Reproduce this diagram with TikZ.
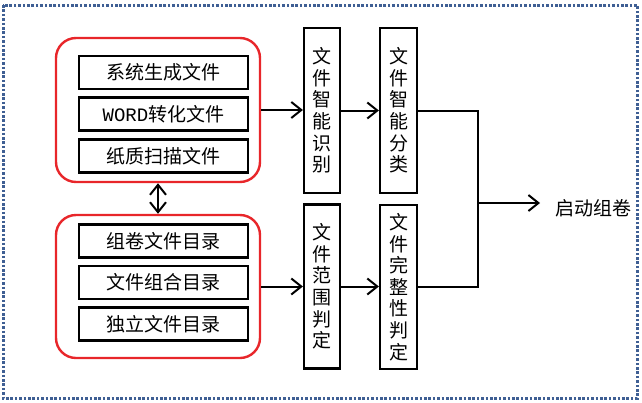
\documentclass[tikz,border=0pt]{standalone}
\usepackage{fontspec}
\setmainfont{Noto Sans CJK SC}
\newfontfamily\latinmono{Liberation Mono}
\usetikzlibrary{arrows.meta,positioning}
\definecolor{frameblue}{HTML}{3F5F94}
\definecolor{boxred}{HTML}{E8262A}
\tikzset{
  grp/.style={draw=boxred, line width=2.4pt, rounded corners=20pt, minimum width=204pt, minimum height=144pt, inner sep=0pt},
  hbox/.style={draw=black, line width=2.2pt, minimum width=169pt, minimum height=33pt, inner sep=0pt, font=\fontsize{19}{21}\selectfont},
  vbox/.style={draw=black, line width=2.2pt, minimum width=36pt, minimum height=165pt, inner sep=0pt, align=center, font=\fontsize{19}{21.6}\selectfont},
  tipv/.tip={Straight Barb[length=10pt,width=16pt,line width=2pt]},
  conn/.style={line width=2pt, -tipv},
  plain/.style={line width=2pt},
  lbl/.style={font=\fontsize{19}{21}\selectfont, inner sep=0pt}
}
\begin{document}
\begin{tikzpicture}[x=1pt,y=-1pt]
\useasboundingbox (0,0) rectangle (642,402);
\draw[frameblue, line width=3pt, dash pattern=on 2.6pt off 1.8pt] (3,5) rectangle (637.5,398);
% groups
\node[grp] (g1) at (158,110) {};
\node[grp, minimum height=143pt] (g2) at (158,286.5) {};
% inner boxes
\node[hbox] (s1) at (163.5,72.5) {系统生成文件};
\node[hbox] (s2) at (163.5,114) {{\latinmono WORD}转化文件};
\node[hbox] (s3) at (163.5,156) {纸质扫描文件};
\node[hbox] (d1) at (163.5,241) {组卷文件目录};
\node[hbox] (d2) at (163.5,282.5) {文件组合目录};
\node[hbox] (d3) at (163.5,324) {独立文件目录};
% vertical boxes
\node[vbox] (a) at (322,110.5) {文\\件\\智\\能\\识\\别};
\node[vbox, minimum height=164pt] (b) at (322,286.5) {文\\件\\范\\围\\判\\定};
\node[vbox, minimum width=37pt] (c) at (398.5,110.5) {文\\件\\智\\能\\分\\类};
\node[vbox, minimum width=37pt, minimum height=164pt] (d) at (398.5,287) {文\\件\\完\\整\\性\\判\\定};
\coordinate (j) at (478,203);
\node[lbl, anchor=west] (out) at (555,208) {启动组卷};
% connectors
\draw[line width=2pt, tipv-tipv] (g1.south) -- (g2.north);
\draw[conn] (g1.east) -- (a.west |- g1.east);
\draw[conn] (g2.east) -- (b.west |- g2.east);
\draw[conn] (a.east) -- (c.west |- a.east);
\draw[conn] (b.east) -- (d.west |- b.east);
\draw[plain] (c.east) -- (j |- c.east) -- (j |- d.east) -- (d.east);
\draw[conn] (j) -- ([xshift=-15pt]out.west |- j);
\end{tikzpicture}
\end{document}
